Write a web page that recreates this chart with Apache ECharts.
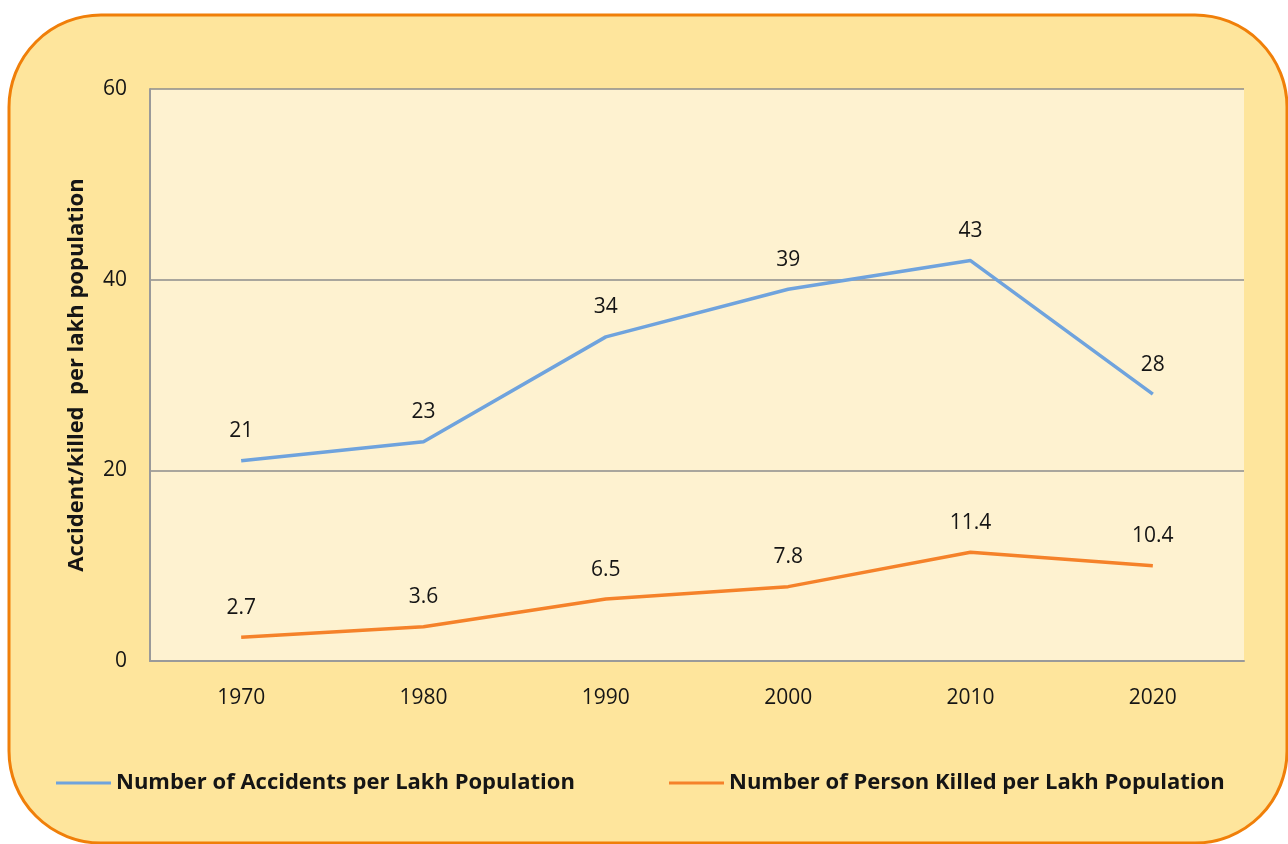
<!DOCTYPE html>
<html><head><meta charset="utf-8">
<script src="https://cdn.jsdelivr.net/npm/echarts@6/dist/echarts.min.js"></script>
<style>html,body{margin:0;padding:0;background:#fff}#c{width:1288px;height:844px}</style>
</head><body><div id="c"></div>
<script>
const years = ['1970','1980','1990','2000','2010','2020'];
const accidents = [21, 23, 34, 39, 42, 28];
const accidentLabels = ['21','23','34','39','43','28'];
const killed = [2.5, 3.6, 6.5, 7.8, 11.4, 10];
const killedLabels = ['2.7','3.6','6.5','7.8','11.4','10.4'];
const yTicks = [0, 20, 40, 60];
const nameA = 'Number of Accidents per Lakh Population';
const nameK = 'Number of Person Killed per Lakh Population';
const FONT = '"Open Sans"';
const TXT = '#151515';

const chart = echarts.init(document.getElementById('c'));
chart.setOption({
  animation: false,
  backgroundColor: '#ffffff',
  graphic: [{
    type: 'rect', z: -10, silent: true,
    shape: { x: 9, y: 15, width: 1278, height: 828, r: 92 },
    style: { fill: '#FEE59C', stroke: '#F07F09', lineWidth: 3 }
  }],
  textStyle: { fontFamily: FONT },
  grid: { left: 150, top: 89, right: 44, bottom: 183, show: true, backgroundColor: '#FEF2D0', borderWidth: 0 },
  legend: [
    { data: [nameA], left: 51, top: 767, itemWidth: 55, itemHeight: 3, icon: 'rect',
      textStyle: { fontFamily: FONT, fontWeight: 'bold', fontSize: 22, color: TXT } },
    { data: [nameK], left: 664, top: 767, itemWidth: 55, itemHeight: 3, icon: 'rect',
      textStyle: { fontFamily: FONT, fontWeight: 'bold', fontSize: 22, color: TXT } }
  ],
  xAxis: {
    type: 'category', data: years, boundaryGap: true,
    axisLine: { lineStyle: { color: '#9a9a9a', width: 2 } },
    axisTick: { show: false },
    axisLabel: { fontFamily: FONT, fontSize: 21, color: TXT, margin: 27 }
  },
  yAxis: {
    type: 'value', min: 0, max: 60, interval: 20,
    name: 'Accident/killed  per lakh population', nameLocation: 'middle', nameGap: 62,
    nameTextStyle: { fontFamily: FONT, fontWeight: 'bold', fontSize: 22, color: TXT },
    axisLine: { show: true, lineStyle: { color: '#9a9a9a', width: 2 } },
    axisTick: { show: false },
    splitLine: { show: true, lineStyle: { color: '#8c8c8c', width: 1.5 } },
    axisLabel: { fontFamily: FONT, fontSize: 21, color: TXT, margin: 23,
      formatter: v => yTicks.includes(v) ? String(v) : '' }
  },
  series: [
    { name: nameA, type: 'line', data: accidents, symbol: 'circle', symbolSize: 0, showSymbol: true,
      lineStyle: { color: '#6FA3DD', width: 3.5 }, itemStyle: { color: '#6FA3DD' },
      label: { show: true, position: 'top', distance: 19, fontFamily: FONT, fontSize: 21, color: TXT,
        formatter: p => accidentLabels[p.dataIndex] } },
    { name: nameK, type: 'line', data: killed, symbol: 'circle', symbolSize: 0, showSymbol: true,
      lineStyle: { color: '#F5822A', width: 3.5 }, itemStyle: { color: '#F5822A' },
      label: { show: true, position: 'top', distance: 19, fontFamily: FONT, fontSize: 21, color: TXT,
        formatter: p => killedLabels[p.dataIndex] } }
  ]
});
</script></body></html>
